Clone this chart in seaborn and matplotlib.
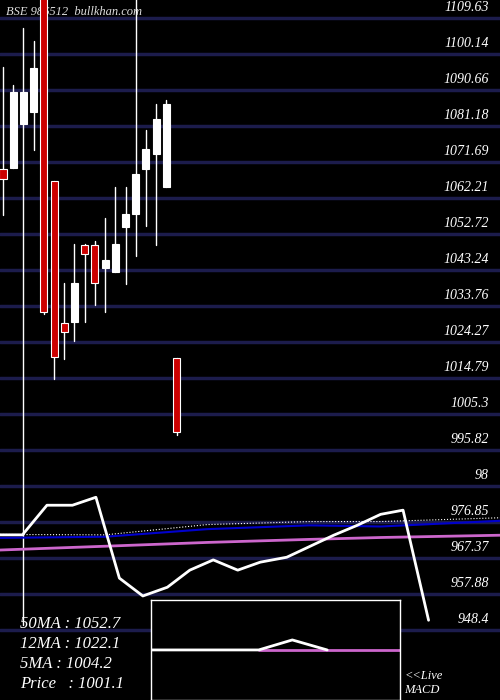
import matplotlib
matplotlib.use("Agg")
import matplotlib.pyplot as plt
import seaborn as sns

sns.set_theme(style="dark")
plt.rcParams['font.family'] = ['Liberation Serif', 'DejaVu Serif']

# candle data (open, high, low, close)
opens  = [1069.9, 1070.1, 1081.7, 1084.9, 1120.0, 1066.7, 1029.3, 1029.6, 1049.8, 1049.8, 1043.8, 1042.7, 1054.6, 1058.0, 1069.9, 1073.8, 1065.1, 1020.1]
closes = [1067.2, 1090.1, 1090.1, 1096.5, 1032.2, 1020.4, 1026.9, 1039.8, 1047.5, 1039.8, 1045.9, 1050.1, 1058.0, 1068.5, 1075.1, 1083.0, 1087.0, 1000.6]
highs  = [1096.7, 1092.0, 1107.0, 1103.6, 1120.0, 1066.7, 1039.8, 1050.1, 1050.1, 1050.9, 1056.9, 1065.1, 1065.1, 1120.0, 1080.1, 1087.0, 1088.0, 1020.1]
lows   = [1057.7, 1070.1, 949.8, 1074.9, 1031.7, 1014.6, 1019.8, 1024.6, 1029.6, 1034.0, 1032.2, 1042.7, 1039.6, 1046.9, 1054.9, 1049.8, 1065.1, 999.8]

# indicator lines (x in slot units)
line_x  = [-0.3, 1.9, 4.3, 6.8, 9.1, 11.4, 13.7, 16.1, 18.3, 20.6, 23.0, 25.2, 27.8, 30.1, 32.4, 34.7, 37.0, 39.2, 41.7]
line_y  = [973.5, 973.5, 981.3, 981.3, 983.4, 962.1, 957.4, 959.7, 964.2, 966.9, 964.2, 966.3, 967.6, 970.5, 973.4, 976.0, 978.9, 980.0, 951.0]
ma_x    = [-0.3, 10, 20, 30, 37, 48.7]
blue_y  = [972.7, 973.0, 975.0, 976.0, 975.7, 977.2]
dot_y   = [973.6, 973.5, 976.2, 977.0, 977.0, 978.0]
pink_y  = [969.5, 970.5, 971.5, 972.3, 972.8, 973.4]

grid_vals = [1109.63 - 9.4826 * k for k in range(18)]
grid_labels = ["1109.63", "1100.14", "1090.66", "1081.18", "1071.69", "1062.21", "1052.72",
               "1043.24", "1033.76", "1024.27", "1014.79", "1005.3", "995.82", "98",
               "976.85", "967.37", "957.88", "948.4"]

ma_labels = ["50MA : 1052.7", "12MA : 1022.1", "5MA : 1004.2", "Price   : 1001.1"]

fig = plt.figure(figsize=(5, 7), dpi=100, facecolor="black")
ax = fig.add_axes([0, 0, 1, 1], facecolor="black")
ax.set_xlim(-0.3, 48.7)
ax.set_ylim(930.0, 1114.37)
for v in grid_vals:
    ax.axhline(v, color="#1c1c4c", lw=2.5, zorder=1)
for v, t in zip(grid_vals, grid_labels):
    ax.text(47.6, v + 1.0, t, color="white", fontsize=10, style="italic", ha="right", va="bottom")

for i, (o, h, l, c) in enumerate(zip(opens, highs, lows, closes)):
    ax.plot([i, i], [l, h], color="white", lw=1, zorder=3)
    col = "white" if c >= o else "#cc0000"
    ax.bar(i, abs(c - o), bottom=min(o, c), width=0.7,
           color=col, edgecolor="white", lw=0.8, zorder=4)

ax.plot(ma_x, pink_y, color="#cc66cc", lw=2, zorder=3)
ax.plot(ma_x, blue_y, color="#0000cc", lw=1.5, zorder=3)
ax.plot(ma_x, dot_y, color="white", lw=0.8, ls=":", zorder=3)
ax.plot(line_x, line_y, color="white", lw=2, zorder=5)

ax.text(0.3, 1111.2, "BSE 986512  bullkhan.com", color="#dddddd", fontsize=9, style="italic", va="center")
for k, t in enumerate(ma_labels):
    ax.text(1.7, 950.0 - 5.3 * k, t, color="white", fontsize=12, style="italic", va="center")
ax.text(39.3, 934.5, "<<Live\nMACD", color="white", fontsize=9, style="italic", va="center")
ax.set_xticks([]); ax.set_yticks([])
for s in ax.spines.values():
    s.set_visible(False)

# MACD inset
macd_x = [0, 17.3, 22.7, 28.3, 40]
macd_y = [0, 0, 1, 0, 0]
ax2 = fig.add_axes([0.302, 0.0, 0.498, 0.143], facecolor="black")
ax2.plot(macd_x[1:], [0] * 4, color="#cc66cc", lw=2)
ax2.plot(macd_x[:4], macd_y[:4], color="white", lw=2)
ax2.set_xlim(0, 40); ax2.set_ylim(-5, 5)
ax2.set_xticks([]); ax2.set_yticks([])
for s in ax2.spines.values():
    s.set_color("white"); s.set_linewidth(1)
fig.savefig("out.png", facecolor="black")
